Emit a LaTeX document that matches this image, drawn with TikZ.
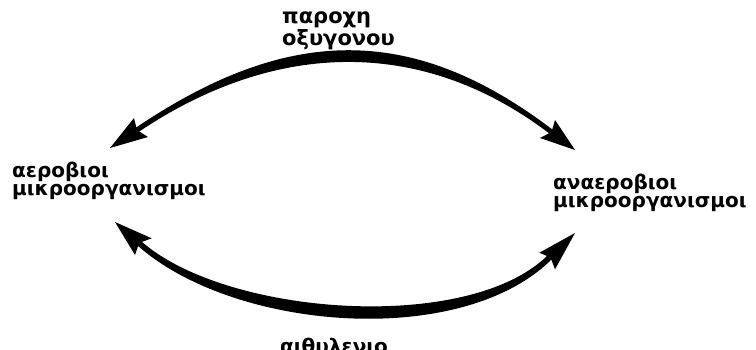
\documentclass[tikz,border=0pt]{standalone}
\usepackage{fontspec}
\setmainfont{DejaVu Sans}[BoldFont={DejaVu Sans Bold}]
\begin{document}
\begin{tikzpicture}[x=1pt,y=-1pt,
  lbl/.style={font=\bfseries\fontsize{20}{17.5}\selectfont, align=left, inner sep=0pt, anchor=base west},
  head/.style={fill=black},
  band/.style={fill=black}]
\useasboundingbox (0,0) rectangle (756,349);
\clip (0,0) rectangle (756,349);
% top arrow (double headed)
\fill[band] (135.6,127.9) .. controls (285,27) and (410,21) .. (553,130)
  -- (550,134) .. controls (421,35.4) and (273.4,41.1) .. (138.4,132.1) -- cycle;
\fill[head] (110,148) -- (134,118) -- (137,130) -- (148,137) -- cycle;
\fill[head] (575,150) -- (555,120) -- (551.5,132) -- (540,138) -- cycle;
% bottom arrow (double headed)
\fill[band] (141,241) .. controls (225,316) and (469,334) .. (548,255)
  -- (552,259) .. controls (461.5,349.5) and (233,331) .. (137,245) -- cycle;
\fill[head] (115,222) -- (151.7,238.3) -- (139,243) -- (135,255) -- cycle;
\fill[head] (575,233) -- (539.3,252.7) -- (550.5,257.5) -- (555,269.3) -- cycle;
% labels
\node[lbl, font=\bfseries\fontsize{21}{18}\selectfont] (top) at (282,45) {παροχη\\οξυγονου};
\node[lbl] (left) at (12,195) {αεροβιοι\\μικροοργανισμοι};
\node[lbl] (right) at (553,207) {αναεροβιοι\\μικροοργανισμοι};
\node[lbl] (bot) at (280,353) {αιθυλενιο};
\end{tikzpicture}
\end{document}
